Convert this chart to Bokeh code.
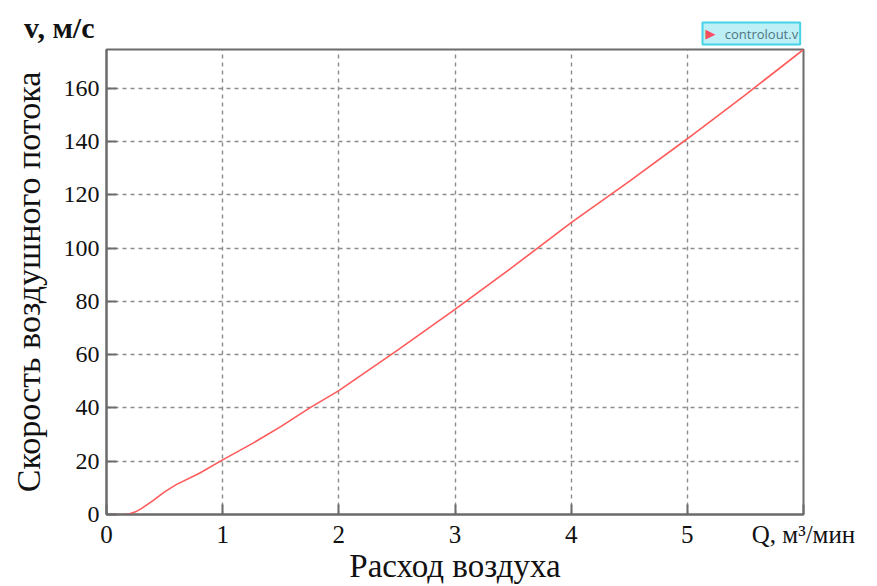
from bokeh.plotting import figure
from bokeh.layouts import column
from bokeh.models import Range1d, FixedTicker, Label
from bokeh.embed import file_html
from bokeh.resources import INLINE

# Data
q = [0.0, 0.1, 0.15, 0.2, 0.25, 0.3, 0.4, 0.5, 0.6, 0.8, 1.0, 1.25, 1.5, 1.75,
     2.0, 2.5, 3.0, 3.5, 4.0, 4.5, 5.0, 5.5, 6.0]
v = [0.0, 0.0, 0.0, 0.3, 1.0, 2.2, 5.2, 8.5, 11.2, 15.5, 20.5, 26.5, 33.0, 40.0,
     46.5, 61.5, 77.0, 93.0, 109.5, 125.0, 141.0, 157.5, 174.5]
x_ticks = [0, 1, 2, 3, 4, 5, 6]
x_grid = [0, 1, 2, 3, 4, 5]
y_ticks = [0, 20, 40, 60, 80, 100, 120, 140, 160]
x_title = "Расход воздуха"
y_title = "Скорость воздушного потока"
x_unit_label = "Q, м³/мин"
y_unit_label = "v, м/с"
legend_name = "controlout.v"

SERIF = "Liberation Serif"
DARK = "#111111"
FRAME = "#6b6b6b"
W = 877
TOP_H = 47
MAIN_H = 586 - TOP_H
LEFT, RIGHT = 106, 74

# ---------- header strip: unit label of the y axis and the series tag ----------
top = figure(width=W, height=TOP_H, output_backend="svg", toolbar_location=None,
             x_range=Range1d(LEFT, W - RIGHT), y_range=Range1d(0, TOP_H),
             x_axis_type=None, min_border=0, min_border_left=LEFT,
             min_border_right=RIGHT)
top.title.visible = False
top.outline_line_color = None
top.background_fill_color = "white"
top.border_fill_color = "white"
top.grid.visible = False
ya = top.yaxis[0]
ya.ticker = FixedTicker(ticks=[20])
ya.major_label_overrides = {20: y_unit_label}
ya.axis_line_color = None
ya.major_tick_line_color = None
ya.minor_tick_line_color = None
ya.major_label_standoff = 6
ya.major_label_text_font = SERIF
ya.major_label_text_font_size = "30px"
ya.major_label_text_font_style = "bold"
ya.major_label_text_color = DARK

NB = "\u00a0"
tag_kw = dict(x=702, y=14, text=NB * 6 + legend_name, text_font="Open Sans",
              text_font_size="13px", text_color="#4f7580", text_baseline="middle",
              background_fill_color="#bdeff6", border_line_color="#45d3e6",
              border_line_width=2)
if "padding" in Label.properties():
    tag_kw["padding"] = 2
top.add_layout(Label(**tag_kw))
top.add_layout(Label(x=705, y=14, text="▶", text_font="DejaVu Sans",
                     text_font_size="13px", text_color="#f5505f",
                     text_baseline="middle"))

# ---------- main chart ----------
p = figure(width=W, height=MAIN_H, output_backend="svg", toolbar_location=None,
           x_range=Range1d(0, 6), y_range=Range1d(0, 174.5),
           min_border_left=LEFT, min_border_right=RIGHT, min_border_top=2,
           min_border_bottom=70)
p.title.visible = False
p.background_fill_color = "white"
p.border_fill_color = "white"
p.outline_line_color = FRAME
p.outline_line_width = 2

p.line(q, v, line_color="#ff5a5a", line_width=1.6)

for ax, ticks in ((p.xaxis, x_ticks), (p.yaxis, y_ticks)):
    ax.ticker = FixedTicker(ticks=ticks)
    ax.axis_line_color = FRAME
    ax.axis_line_width = 2
    ax.major_tick_in = 10
    ax.major_tick_out = 0
    ax.major_tick_line_color = FRAME
    ax.major_tick_line_width = 2
    ax.minor_tick_line_color = None
    ax.major_label_text_font = SERIF
    ax.major_label_text_color = DARK
    ax.axis_label_text_font = SERIF
    ax.axis_label_text_font_style = "normal"
    ax.axis_label_text_color = DARK

p.xaxis.major_label_text_font_size = "25px"
p.yaxis.major_label_text_font_size = "24px"
p.xaxis.axis_label_text_font_size = "33px"
p.yaxis.axis_label_text_font_size = "34px"

p.xaxis.major_label_overrides = {6: x_unit_label}
p.xaxis.major_label_standoff = 6
p.yaxis.major_label_standoff = 7
p.xaxis.axis_label = x_title
p.xaxis.axis_label_standoff = -3
p.yaxis.axis_label = y_title
p.yaxis.axis_label_standoff = 14

p.xgrid.ticker = FixedTicker(ticks=x_grid)
p.ygrid.ticker = FixedTicker(ticks=y_ticks)
for g in (p.xgrid, p.ygrid):
    g.grid_line_color = "#8c8c8c"
    g.grid_line_width = 1.4
    g.grid_line_dash = "4 4"

layout = column(top, p, spacing=0)
open("out.html", "w").write(file_html(layout, INLINE))
